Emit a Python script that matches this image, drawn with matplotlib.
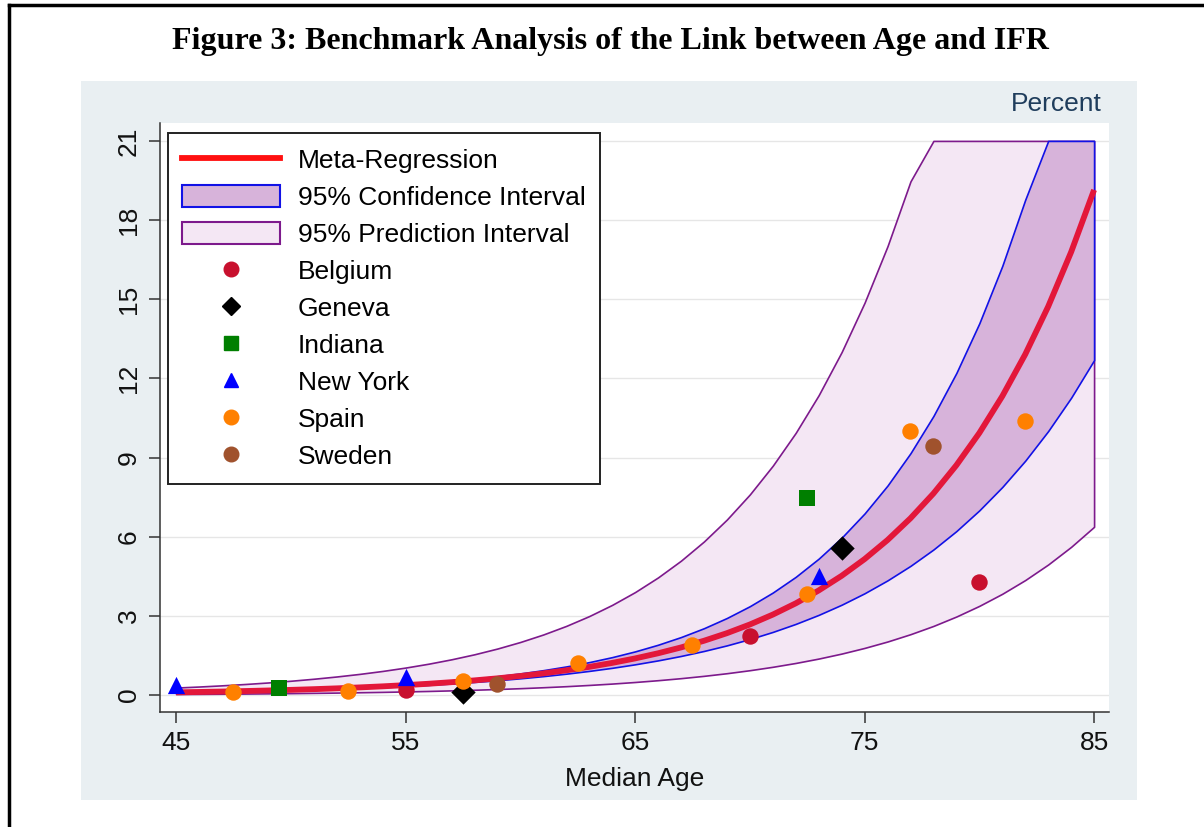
import matplotlib
matplotlib.use('Agg')
import matplotlib.pyplot as plt
from matplotlib.lines import Line2D
from matplotlib.patches import Patch, Rectangle

plt.rcParams['font.family'] = ['Liberation Sans', 'DejaVu Sans']

# meta-regression curve and bands at each year of age
age = list(range(45, 86))
fit = [0.100, 0.114, 0.130, 0.149, 0.170, 0.193, 0.220, 0.251, 0.287, 0.327, 0.373, 0.425, 0.485, 0.553,
       0.630, 0.719, 0.819, 0.934, 1.065, 1.215, 1.385, 1.580, 1.801, 2.054, 2.342, 2.671, 3.046, 3.473,
       3.961, 4.516, 5.150, 5.873, 6.697, 7.636, 8.708, 9.929, 11.323, 12.911, 14.723, 16.789, 19.144]
ci_lo = [0.086, 0.099, 0.114, 0.131, 0.151, 0.173, 0.198, 0.227, 0.259, 0.296, 0.337, 0.383, 0.435, 0.493,
         0.558, 0.632, 0.714, 0.807, 0.912, 1.029, 1.162, 1.311, 1.479, 1.668, 1.880, 2.120, 2.390, 2.694,
         3.036, 3.421, 3.855, 4.344, 4.894, 5.514, 6.212, 6.998, 7.883, 8.880, 10.003, 11.267, 12.691]
ci_hi = [0.116, 0.131, 0.149, 0.168, 0.190, 0.216, 0.245, 0.278, 0.317, 0.361, 0.413, 0.472, 0.540, 0.620,
         0.711, 0.817, 0.940, 1.081, 1.245, 1.434, 1.652, 1.904, 2.195, 2.530, 2.918, 3.365, 3.882, 4.478,
         5.167, 5.962, 6.880, 7.939, 9.163, 10.575, 12.206, 14.089, 16.263, 18.772, 21.0, 21.0, 21.0]
pi_lo = [0.036, 0.041, 0.047, 0.053, 0.061, 0.069, 0.079, 0.090, 0.103, 0.117, 0.134, 0.152, 0.174, 0.198,
         0.226, 0.257, 0.293, 0.333, 0.380, 0.432, 0.492, 0.560, 0.637, 0.725, 0.825, 0.939, 1.068, 1.214,
         1.380, 1.569, 1.784, 2.027, 2.304, 2.617, 2.974, 3.378, 3.836, 4.356, 4.946, 5.615, 6.374]
pi_hi = [0.281, 0.320, 0.365, 0.415, 0.473, 0.539, 0.615, 0.701, 0.799, 0.911, 1.039, 1.185, 1.352, 1.542,
         1.760, 2.009, 2.293, 2.618, 2.990, 3.415, 3.900, 4.456, 5.091, 5.818, 6.650, 7.601, 8.691, 9.937,
         11.364, 12.998, 14.870, 17.012, 19.467, 21.0, 21.0, 21.0, 21.0, 21.0, 21.0, 21.0, 21.0]

# study points: (median age, IFR %)
belgium_x = [55, 70, 80]
belgium_y = [0.19, 2.25, 4.29]
geneva_x = [57.5, 74]
geneva_y = [0.12, 5.58]
indiana_x = [49.5, 72.5]
indiana_y = [0.28, 7.48]
newyork_x = [45, 55, 73]
newyork_y = [0.36, 0.68, 4.5]
spain_x = [47.5, 52.5, 57.5, 62.5, 67.5, 72.5, 77, 82]
spain_y = [0.11, 0.15, 0.54, 1.2, 1.9, 3.84, 10.0, 10.37]
sweden_x = [59, 78]
sweden_y = [0.42, 9.42]

xticks = [45, 55, 65, 75, 85]
yticks = [0, 3, 6, 9, 12, 15, 18, 21]

c_fit = '#e3173a'
c_ci = '#d7b3da'
c_ci_edge = '#1212e6'
c_pi = '#f4e7f4'
c_pi_edge = '#7d1a8c'
panel = '#e9eff2'

fig = plt.figure(figsize=(12.04, 8.27), dpi=100)
fig.patch.set_facecolor('white')

# light graph region behind the plot, like Stata's s2color scheme
fig.patches.append(Rectangle((0.0673, 0.0326), 0.877, 0.869, transform=fig.transFigure,
                             facecolor=panel, edgecolor='none', zorder=-1))
# page frame on the left and top
fig.add_artist(Line2D([0.0075, 0.0075], [0, 0.994], transform=fig.transFigure, color='black', lw=2.5))
fig.add_artist(Line2D([0.0075, 1.0], [0.994, 0.994], transform=fig.transFigure, color='black', lw=2.5))

fig.text(0.507, 0.950, 'Figure 3: Benchmark Analysis of the Link between Age and IFR',
         ha='center', va='center', fontsize=23, fontweight='bold', family='Liberation Serif')

ax = fig.add_axes([0.1329, 0.1391, 0.7882, 0.7122])
ax.set_facecolor('white')

ax.fill_between(age, pi_lo, pi_hi, facecolor=c_pi, edgecolor=c_pi_edge, lw=1.2, zorder=2)
ax.fill_between(age, ci_lo, ci_hi, facecolor=c_ci, edgecolor=c_ci_edge, lw=1.2, zorder=3)
ax.plot(age, fit, color=c_fit, lw=4.2, zorder=4, solid_capstyle='butt')

ms = 140
ax.scatter(belgium_x, belgium_y, s=ms, color='#c8102e', marker='o', zorder=5, linewidths=0)
ax.scatter(geneva_x, geneva_y, s=ms * 1.1, color='black', marker='D', zorder=5, linewidths=0)
ax.scatter(indiana_x, indiana_y, s=ms * 0.95, color='#007f00', marker='s', zorder=5, linewidths=0)
ax.scatter(newyork_x, newyork_y, s=ms * 1.1, color='#0000ff', marker='^', zorder=5, linewidths=0)
ax.scatter(spain_x, spain_y, s=ms, color='#ff8000', marker='o', zorder=5, linewidths=0)
ax.scatter(sweden_x, sweden_y, s=ms, color='#a0522d', marker='o', zorder=5, linewidths=0)

ax.set_xlim(44.3, 85.65)
ax.set_ylim(-0.644, 21.68)
ax.set_xticks(xticks)
ax.set_yticks(yticks)
ax.tick_params(axis='both', length=8, width=1.1, color='#333333', labelsize=19, labelcolor='#111111', pad=6)
plt.setp(ax.get_yticklabels(), rotation=90, va='center')
ax.grid(axis='y', color='#e6e6e6', lw=1.0, zorder=0)
ax.set_axisbelow(True)
for side in ['top', 'right']:
    ax.spines[side].set_visible(False)
for side in ['left', 'bottom']:
    ax.spines[side].set_color('#333333')
    ax.spines[side].set_linewidth(1.1)

ax.set_xlabel('Median Age', fontsize=19, color='#111111', labelpad=8)
fig.text(0.915, 0.874, 'Percent', ha='right', va='center', fontsize=19, color='#1f3d5c')

handles = [
    Line2D([], [], color='#ff1010', lw=4.2),
    Patch(facecolor=c_ci, edgecolor=c_ci_edge, lw=1.5),
    Patch(facecolor=c_pi, edgecolor=c_pi_edge, lw=1.5),
    Line2D([], [], ls='none', marker='o', ms=10.5, color='#c8102e'),
    Line2D([], [], ls='none', marker='D', ms=9.5, color='black'),
    Line2D([], [], ls='none', marker='s', ms=9.5, color='#007f00'),
    Line2D([], [], ls='none', marker='^', ms=10.5, color='#0000ff'),
    Line2D([], [], ls='none', marker='o', ms=10.5, color='#ff8000'),
    Line2D([], [], ls='none', marker='o', ms=10.5, color='#a0522d'),
]
labels = ['Meta-Regression', '95% Confidence Interval', '95% Prediction Interval',
          'Belgium', 'Geneva', 'Indiana', 'New York', 'Spain', 'Sweden']
leg = ax.legend(handles, labels, loc='upper left', bbox_to_anchor=(0.0084, 0.983), borderaxespad=0,
                fontsize=19, frameon=True, fancybox=False, edgecolor='#222222', framealpha=1,
                handlelength=3.7, handleheight=0.95, handletextpad=0.68, labelspacing=0.44,
                borderpad=0.55)
leg.get_frame().set_linewidth(1.4)
leg.set_zorder(10)

fig.savefig('out.png', dpi=100)
plt.close(fig)
